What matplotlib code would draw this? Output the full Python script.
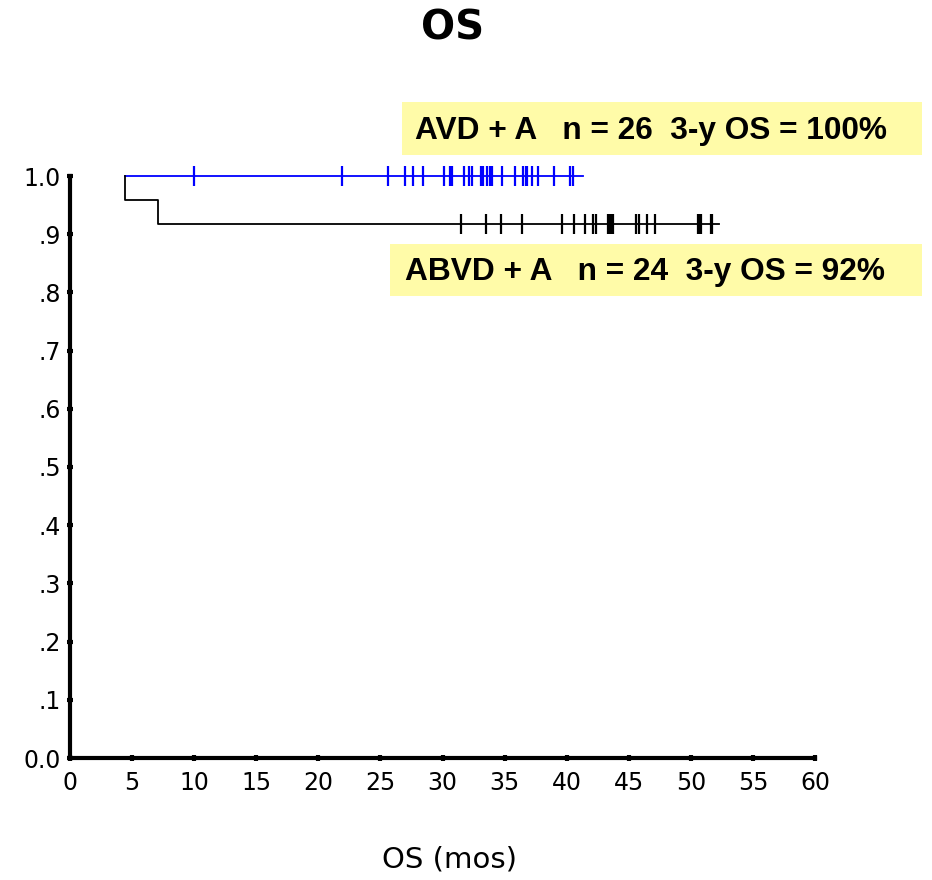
import matplotlib
matplotlib.use("Agg")
import numpy as np
from matplotlib import pyplot as plt
from matplotlib.patches import Rectangle

# Kaplan-Meier step data (months, survival)
avd_times = [0, 4.4, 41.3]
avd_surv = [1.0, 1.0, 1.0]
avd_censor = [10.0, 21.9, 25.6, 27.0, 27.6, 28.4, 30.1, 30.6, 30.8, 31.7, 32.1, 32.4,
              33.1, 33.3, 33.6, 33.8, 34.0, 34.8, 35.8, 36.5, 36.7, 36.8, 37.2, 37.7,
              39.0, 40.3, 40.5]

abvd_times = [4.4, 4.4, 7.1, 52.3]
abvd_surv = [1.0, 0.958, 0.917, 0.917]
abvd_censor = [31.5, 33.5, 34.7, 36.4, 39.6, 40.6, 41.5, 42.1, 42.4, 43.3, 43.5, 43.6,
               43.7, 45.6, 45.8, 46.5, 47.1, 50.6, 50.7, 50.8, 51.6, 51.7]

xticks = np.arange(0, 61, 5)
yticks = np.arange(0, 1.01, 0.1)
ylabels = ["0.0", ".1", ".2", ".3", ".4", ".5", ".6", ".7", ".8", ".9", "1.0"]

legend_avd = "AVD + A   n = 26  3-y OS = 100%"
legend_abvd = "ABVD + A   n = 24  3-y OS = 92%"

fig = plt.figure(figsize=(9.32, 8.8), dpi=100)
ax = fig.add_axes([70 / 932, 1 - 758 / 880, 745 / 932, 582 / 880])

ax.step(avd_times[1:], avd_surv[1:], where="post", color="#0000FF", lw=1.3, clip_on=False)
ax.plot(avd_censor, [1.0] * len(avd_censor), ls="none", marker="|", ms=15, mew=1.6,
        color="#0000FF", clip_on=False)
ax.step(abvd_times, abvd_surv, where="post", color="black", lw=1.3, clip_on=False)
ax.plot(abvd_censor, [0.917] * len(abvd_censor), ls="none", marker="|", ms=15, mew=1.6,
        color="black", clip_on=False)

ax.set_xlim(0, 60)
ax.set_ylim(0, 1.0)
ax.set_xticks(xticks)
ax.set_yticks(yticks)
ax.set_yticklabels(ylabels)
ax.tick_params(labelsize=17, direction="inout", length=5, width=3)
ax.tick_params(axis="x", pad=7)
ax.tick_params(axis="y", pad=4)
for s in ["top", "right"]:
    ax.spines[s].set_visible(False)
for s in ["left", "bottom"]:
    ax.spines[s].set_linewidth(3)

fig.text(450 / 932, 1 - 859 / 880, "OS (mos)", ha="center", va="center", fontsize=21)
fig.text(453 / 932, 1 - 28 / 880, "OS", ha="center", va="center", fontsize=29,
         fontweight="bold")

# yellow legend boxes
box_color = "#FFFBA8"
fig.patches.append(Rectangle((402 / 932, 1 - 155 / 880), 520 / 932, 53 / 880,
                             transform=fig.transFigure, fc=box_color, ec="none"))
fig.patches.append(Rectangle((390 / 932, 1 - 296 / 880), 532 / 932, 52 / 880,
                             transform=fig.transFigure, fc=box_color, ec="none"))
fig.text(415 / 932, 1 - 131 / 880, legend_avd, ha="left", va="center", fontsize=22.8,
         fontweight="bold", family="Liberation Sans")
fig.text(405 / 932, 1 - 272 / 880, legend_abvd, ha="left", va="center", fontsize=22.8,
         fontweight="bold", family="Liberation Sans")

fig.savefig("out.png", dpi=100)
